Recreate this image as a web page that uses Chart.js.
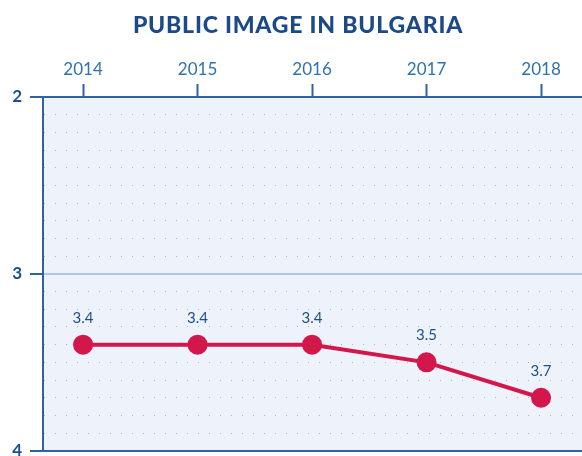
<!DOCTYPE html>
<html>
<head>
<meta charset="utf-8">
<script src="https://cdn.jsdelivr.net/npm/chart.js@4/dist/chart.umd.min.js"></script>
<style>
  html, body { margin: 0; padding: 0; background: #fff; }
  #wrap { position: relative; width: 582px; height: 456px; overflow: hidden; }
  h1 {
    position: absolute; left: 0; top: 10px; width: 596px; margin: 0;
    text-align: center; font: 900 23px Lato, sans-serif; letter-spacing: 0.8px;
    color: #1b4a86; z-index: 2;
  }
  canvas { position: absolute; left: 0; top: 0; }
</style>
</head>
<body>
<div id="wrap">
  <h1>PUBLIC IMAGE IN BULGARIA</h1>
  <canvas id="grafico" width="600" height="469"></canvas>
</div>
<script>
const anos = [2014, 2015, 2016, 2017, 2018];
const valores = [3.4, 3.4, 3.4, 3.5, 3.7];
const rotulosY = [2, 3, 4];

/* ================= PLUGINS ================= */

const fundoPlot = {
  id: "fundoPlot",
  beforeDraw(chart) {
    const { ctx, chartArea: a } = chart;
    ctx.save();
    ctx.fillStyle = "#edf2fb";
    ctx.fillRect(a.left, a.top, a.right - a.left, a.bottom - a.top);
    ctx.restore();
  }
};

const rotulosValor = {
  id: "rotulosValor",
  afterDatasetsDraw(chart) {
    const { ctx } = chart;
    const meta = chart.getDatasetMeta(0);
    ctx.save();
    ctx.font = "15px Lato, sans-serif";
    ctx.fillStyle = "#1d4f8a";
    ctx.textAlign = "center";
    ctx.textBaseline = "middle";
    meta.data.forEach((p, i) => {
      ctx.fillText(valores[i].toFixed(1), p.x, p.y - 27);
    });
    ctx.restore();
  }
};

/* ================= GRÁFICO ================= */

const ehInteiro = v => Math.abs(v - Math.round(v)) < 1e-6;

const grafico = new Chart(document.getElementById("grafico"), {
  type: "line",
  data: {
    datasets: [{
      data: anos.map((a, i) => ({ x: a, y: valores[i] })),
      borderColor: "#d3174b",
      backgroundColor: "#d3174b",
      borderWidth: 4,
      pointRadius: 8,
      pointHoverRadius: 8,
      tension: 0
    }]
  },
  options: {
    responsive: false,
    animation: false,
    layout: { padding: 0 },
    plugins: { legend: { display: false }, tooltip: { enabled: false } },
    scales: {
      x: {
        type: "linear",
        position: "top",
        min: 2013.65,
        max: 2018.41,
        afterBuildTicks: s => { s.ticks = anos.map(v => ({ value: v })); },
        afterFit: s => { s.height = 97; },
        ticks: {
          color: "#2f72ad",
          font: { family: "Lato", size: 17 },
          padding: 4,
          autoSkip: false,
          maxRotation: 0,
          callback: v => String(v)
        },
        grid: { drawOnChartArea: false, tickLength: 13, tickColor: "#2d64a0", tickWidth: 2 },
        border: { color: "#2d64a0", width: 2 }
      },
      y: {
        reverse: true,
        min: 2,
        max: 4,
        afterBuildTicks: s => {
          const t = [];
          for (let k = 0; k <= 20; k++) t.push({ value: 2 + k / 10 });
          s.ticks = t;
        },
        afterFit: s => { s.width = 43; },
        ticks: {
          color: "#1d4f8a",
          font: { family: "Lato", size: 17, weight: "bold" },
          padding: 8,
          autoSkip: false,
          callback: v => (ehInteiro(v) && rotulosY.includes(Math.round(v)) ? String(Math.round(v)) : "")
        },
        grid: {
          tickLength: 13,
          lineWidth: c => (ehInteiro(c.tick.value) ? 2 : 1),
          color: c => {
            const v = c.tick.value;
            if (Math.abs(v - 3) < 1e-6) return "#a9c8e8";
            if (Math.abs(v - 4) < 1e-6) return "#2d64a0";
            if (Math.abs(v - 2) < 1e-6) return "rgba(0,0,0,0)";
            return "#a9b4c6";
          },
          tickColor: c => (ehInteiro(c.tick.value) ? "#2d64a0" : "rgba(0,0,0,0)")
        },
        border: {
          color: "#2d64a0",
          width: 2,
          dash: c => (c.tick && ehInteiro(c.tick.value) ? [] : [1, 10])
        }
      }
    }
  },
  plugins: [fundoPlot, rotulosValor]
});
console.log(JSON.stringify(grafico.chartArea));
</script>
</body>
</html>
